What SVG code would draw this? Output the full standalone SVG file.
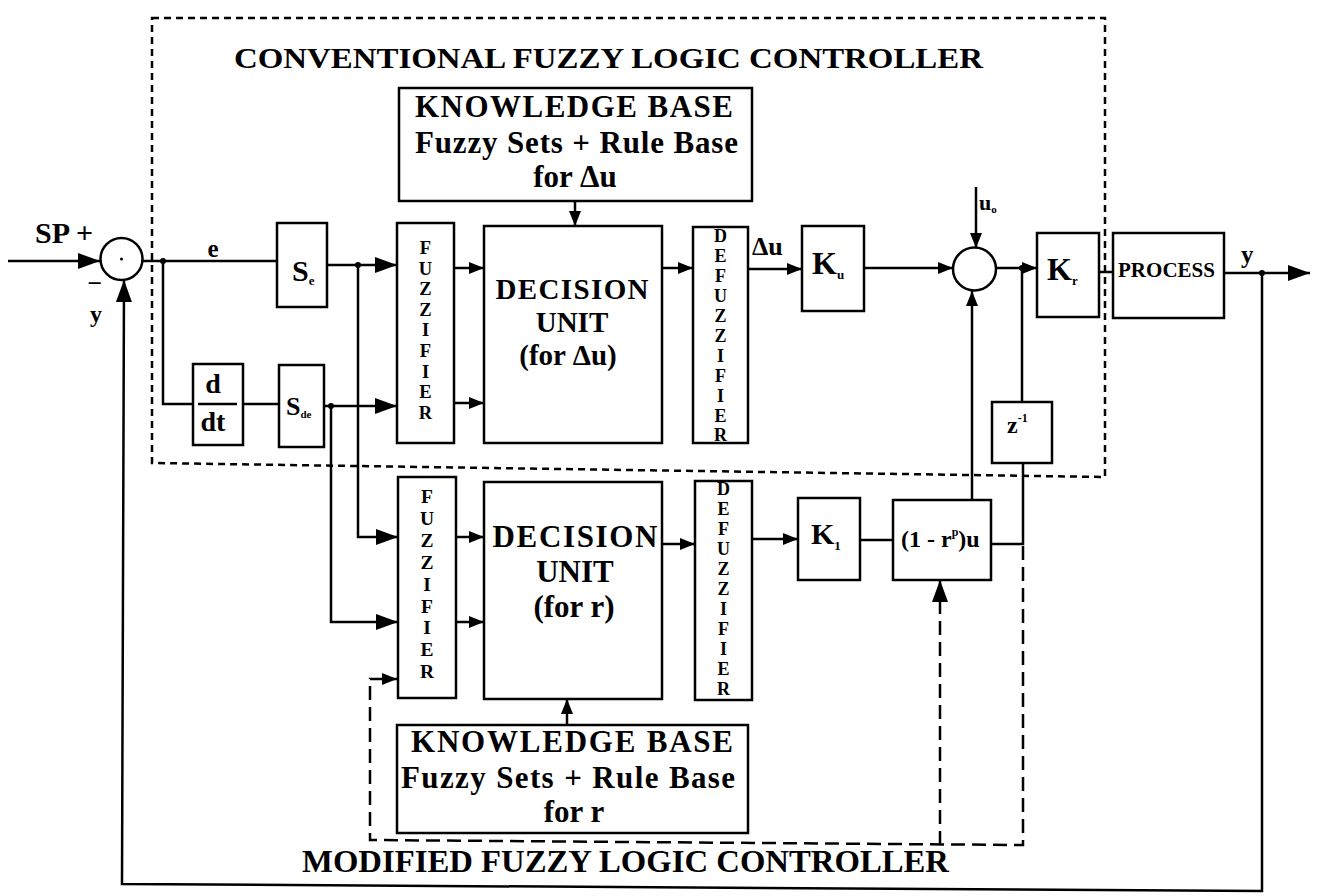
<svg xmlns="http://www.w3.org/2000/svg" width="1317" height="896" viewBox="0 0 1317 896">
<defs>
<marker id="ah" markerUnits="userSpaceOnUse" markerWidth="22" markerHeight="16" refX="22" refY="8" orient="auto"><path d="M0,0 L22,8 L0,16 z" fill="#000"/></marker>
<marker id="as" markerUnits="userSpaceOnUse" markerWidth="15" markerHeight="12" refX="15" refY="6" orient="auto"><path d="M0,0 L15,6 L0,12 z" fill="#000"/></marker>
</defs>
<style>
.b{fill:#fff;stroke:#000;stroke-width:2.5}
.l{fill:none;stroke:#000;stroke-width:2.5}
.d1{fill:none;stroke:#000;stroke-width:2.5;stroke-dasharray:7 5}
.d2{fill:none;stroke:#000;stroke-width:2.5;stroke-dasharray:14 7}
text{font-family:"Liberation Serif","Times New Roman",serif;font-weight:bold;fill:#000}
.m{text-anchor:middle}
.v{text-anchor:middle}
</style>
<rect width="1317" height="896" fill="#fff"/>

<g id="boundary">
<path class="d1" d="M152 18 H1105 V477 L152 463 Z"/>
<text x="234" y="68" font-size="30" textLength="749" lengthAdjust="spacingAndGlyphs">CONVENTIONAL FUZZY LOGIC CONTROLLER</text>
<text x="302" y="872" font-size="32" textLength="647" lengthAdjust="spacingAndGlyphs">MODIFIED FUZZY LOGIC CONTROLLER</text>
</g>

<g id="connectors">
<path class="l" d="M8 261 H100" marker-end="url(#ah)"/>
<path class="l" d="M1262 273 V891 L122 884 L124 280" marker-end="url(#ah)"/>
<path class="l" d="M142 261 H277"/>
<path class="l" d="M163 261 V404 H193"/>
<path class="l" d="M243 404 H279"/>
<path class="l" d="M327 265 H397" marker-end="url(#ah)"/>
<path class="l" d="M358 265 V537 H398" marker-end="url(#ah)"/>
<path class="l" d="M324 406 H397" marker-end="url(#ah)"/>
<path class="l" d="M331 406 V622 H398" marker-end="url(#ah)"/>
<path class="l" d="M454 268 H484" marker-end="url(#as)"/>
<path class="l" d="M454 403 H484" marker-end="url(#as)"/>
<path class="l" d="M575 201 V226" marker-end="url(#as)"/>
<path class="l" d="M662 268 H693" marker-end="url(#as)"/>
<path class="l" d="M748 269 H802" marker-end="url(#as)"/>
<path class="l" d="M864 268 H953" marker-end="url(#as)"/>
<path class="l" d="M976 187 V248" marker-end="url(#as)"/>
<path class="l" d="M996 268 H1037" marker-end="url(#as)"/>
<path class="l" d="M1099 272 H1113"/>
<path class="l" d="M1224 273 H1310" marker-end="url(#ah)"/>
<path class="l" d="M1022 268 V402"/>
<path class="l" d="M1023 463 V544 H991"/>
<path class="l" d="M972 500 V291" marker-end="url(#as)"/>
<path class="l" d="M456 537 H484" marker-end="url(#as)"/>
<path class="l" d="M456 622 H484" marker-end="url(#as)"/>
<path class="l" d="M662 544 H695" marker-end="url(#as)"/>
<path class="l" d="M752 539 H798" marker-end="url(#as)"/>
<path class="l" d="M860 540 H893"/>
<path class="l" d="M567 725 V699" marker-end="url(#as)"/>
<path class="d2" d="M1023 546 V845 L370 840 V679 H397" marker-end="url(#as)"/>
<path class="d2" d="M940 845 V580" marker-end="url(#ah)"/>
<circle cx="163" cy="261" r="3"/>
<circle cx="358" cy="265" r="3"/>
<circle cx="331" cy="406" r="3"/>
<circle cx="1022" cy="268" r="3"/>
<circle cx="1262" cy="273" r="3"/>
</g>

<g id="sum1">
<circle class="b" cx="121.5" cy="259" r="21"/>
<circle cx="121.5" cy="259" r="1.5"/>
</g>
<g id="se">
<rect class="b" x="277" y="223" width="50" height="84"/>
<text x="292" y="281" font-size="30">S<tspan font-size="13" dy="4">e</tspan></text>
</g>
<g id="ddt">
<rect class="b" x="193" y="364" width="50" height="81"/>
<text class="m" x="213" y="393" font-size="28">d</text>
<line class="l" x1="198" y1="404" x2="237" y2="404"/>
<text class="m" x="213" y="431" font-size="28">dt</text>
</g>
<g id="sde">
<rect class="b" x="279" y="365" width="45" height="82"/>
<text x="286" y="415" font-size="26">S<tspan font-size="11" dy="3">de</tspan></text>
</g>
<g id="kb1">
<rect class="b" x="399" y="88" width="353" height="113"/>
<text x="415" y="117" font-size="31" textLength="318">KNOWLEDGE BASE</text>
<text x="415" y="153" font-size="31" textLength="323">Fuzzy Sets + Rule Base</text>
<text class="m" x="575" y="187" font-size="31">for Δu</text>
</g>
<g id="fuzz1">
<rect class="b" x="397" y="223" width="57" height="220"/>
<text class="v" font-size="18.5"><tspan x="425.5" y="254">F</tspan><tspan x="425.5" y="274.6">U</tspan><tspan x="425.5" y="295.2">Z</tspan><tspan x="425.5" y="315.8">Z</tspan><tspan x="425.5" y="336.4">I</tspan><tspan x="425.5" y="357">F</tspan><tspan x="425.5" y="377.6">I</tspan><tspan x="425.5" y="398.2">E</tspan><tspan x="425.5" y="418.8">R</tspan></text>
</g>
<g id="dec1">
<rect class="b" x="484" y="226" width="178" height="217"/>
<text class="m" x="572" y="299" font-size="29" textLength="153">DECISION</text>
<text class="m" x="572" y="332" font-size="29">UNIT</text>
<text class="m" x="568" y="365" font-size="29">(for Δu)</text>
</g>
<g id="defuzz1">
<rect class="b" x="693" y="227" width="55" height="216"/>
<text class="v" font-size="18"><tspan x="720.5" y="242">D</tspan><tspan x="720.5" y="262">E</tspan><tspan x="720.5" y="282">F</tspan><tspan x="720.5" y="302">U</tspan><tspan x="720.5" y="322">Z</tspan><tspan x="720.5" y="342">Z</tspan><tspan x="720.5" y="362">I</tspan><tspan x="720.5" y="382">F</tspan><tspan x="720.5" y="402">I</tspan><tspan x="720.5" y="422">E</tspan><tspan x="720.5" y="441">R</tspan></text>
</g>
<g id="ku">
<rect class="b" x="802" y="226" width="62" height="85"/>
<text x="812" y="274" font-size="32">K<tspan font-size="13" dy="5">u</tspan></text>
</g>
<g id="sum2">
<circle class="b" cx="974.5" cy="269" r="21.5"/>
</g>
<g id="kr">
<rect class="b" x="1037" y="233" width="62" height="84"/>
<text x="1047" y="280" font-size="32">K<tspan font-size="13" dy="5">r</tspan></text>
</g>
<g id="process">
<rect class="b" x="1113" y="233" width="111" height="85"/>
<text x="1118" y="277" font-size="21" textLength="97">PROCESS</text>
</g>
<g id="z1">
<rect class="b" x="992" y="402" width="60" height="61"/>
<text x="1007" y="433" font-size="24">z<tspan font-size="12" dy="-11">-1</tspan></text>
</g>
<g id="fuzz2">
<rect class="b" x="398" y="477" width="58" height="221"/>
<text class="v" font-size="19.5"><tspan x="427" y="503">F</tspan><tspan x="427" y="524.9">U</tspan><tspan x="427" y="546.8">Z</tspan><tspan x="427" y="568.7">Z</tspan><tspan x="427" y="590.6">I</tspan><tspan x="427" y="612.5">F</tspan><tspan x="427" y="634.4">I</tspan><tspan x="427" y="656.3">E</tspan><tspan x="427" y="678.2">R</tspan></text>
</g>
<g id="dec2">
<rect class="b" x="484" y="482" width="178" height="217"/>
<text class="m" x="575" y="547" font-size="31" textLength="165">DECISION</text>
<text class="m" x="575" y="582" font-size="31">UNIT</text>
<text class="m" x="574" y="617" font-size="31">(for r)</text>
</g>
<g id="defuzz2">
<rect class="b" x="695" y="481" width="57" height="219"/>
<text class="v" font-size="18"><tspan x="723.5" y="495">D</tspan><tspan x="723.5" y="515">E</tspan><tspan x="723.5" y="535">F</tspan><tspan x="723.5" y="555">U</tspan><tspan x="723.5" y="575">Z</tspan><tspan x="723.5" y="595">Z</tspan><tspan x="723.5" y="615">I</tspan><tspan x="723.5" y="635">F</tspan><tspan x="723.5" y="655">I</tspan><tspan x="723.5" y="675">E</tspan><tspan x="723.5" y="695">R</tspan></text>
</g>
<g id="kb2">
<rect class="b" x="397" y="725" width="351" height="108"/>
<text x="411" y="752" font-size="31" textLength="322">KNOWLEDGE BASE</text>
<text x="401" y="788" font-size="31" textLength="334">Fuzzy Sets + Rule Base</text>
<text class="m" x="574" y="822" font-size="31">for r</text>
</g>
<g id="k1">
<rect class="b" x="798" y="498" width="62" height="82"/>
<text x="811" y="544" font-size="30">K<tspan font-size="13" dy="6">1</tspan></text>
</g>
<g id="ru">
<rect class="b" x="893" y="500" width="98" height="80"/>
<text x="901" y="547" font-size="24">(1 - r<tspan font-size="12" dy="-11">p</tspan><tspan dy="11">)u</tspan></text>
</g>

<g id="labels">
<text x="35" y="243" font-size="30">SP<tspan x="76">+</tspan></text>
<text class="m" x="95" y="292" font-size="26">−</text>
<text class="m" x="96" y="322" font-size="24">y</text>
<text class="m" x="213" y="257" font-size="25">e</text>
<text x="752" y="255" font-size="26">Δu</text>
<text x="979" y="210" font-size="22">u<tspan font-size="11" dy="3">o</tspan></text>
<text x="1241" y="263" font-size="25">y</text>
</g>
</svg>
